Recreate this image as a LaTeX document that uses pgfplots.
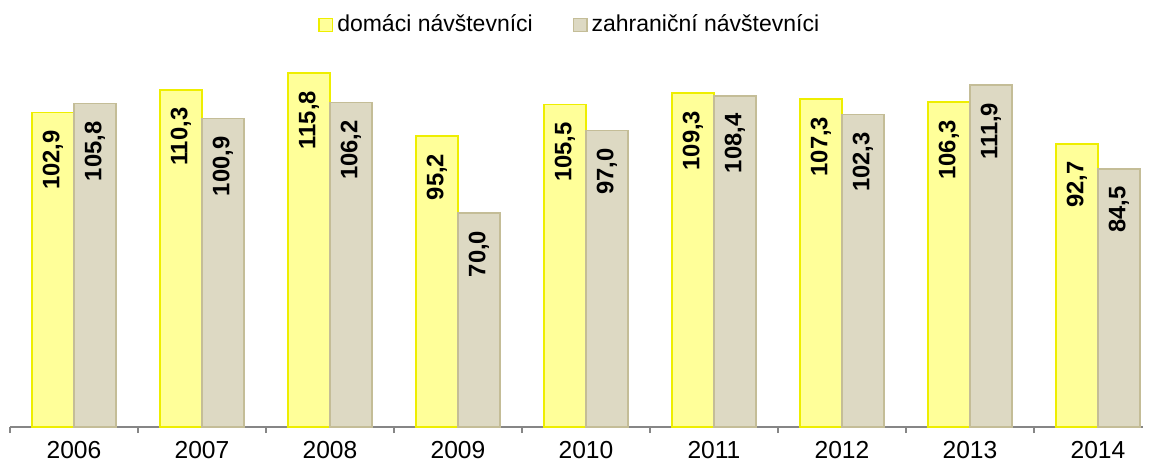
\documentclass[border=0pt]{standalone}
\usepackage{fontspec}
\setmainfont{Liberation Sans}
\usepackage{pgfplots}
\pgfplotsset{compat=1.18}
\definecolor{yfill}{HTML}{FFFF99}
\definecolor{ydraw}{HTML}{EEEE00}
\definecolor{gfill}{HTML}{DDD9C3}
\definecolor{gdraw}{HTML}{C4BD97}
\definecolor{axgray}{HTML}{868686}
\begin{document}
\begin{tikzpicture}[x=1pt,y=1pt]
\useasboundingbox (-5,-18) rectangle (570,213.5);
\begin{axis}[
  at={(0,0)}, anchor=south west,
  scale only axis, width=566.5pt, height=191pt,
  xmin=-0.5, xmax=8.352, ymin=0, ymax=125,
  hide y axis,
  axis x line*=bottom,
  x axis line style={draw=axgray, line width=0.6pt},
  xtick={0,...,8},
  xticklabels={2006,2007,2008,2009,2010,2011,2012,2013,2014},
  major x tick style={draw=none},
  minor xtick={-0.5,0.5,...,7.5},
  minor tick length=3pt,
  minor x tick style={draw=axgray, line width=0.6pt},
  tick align=outside,
  xticklabel style={font=\fontsize{12.3}{14}\selectfont, inner sep=0pt, yshift=-2.6pt},
  /pgf/number format/assume math mode=true,
  ybar=0pt, bar width=21pt,
  nodes near coords,
  nodes near coords style={font=\fontsize{11.9}{13}\selectfont\bfseries, rotate=90, anchor=east, inner xsep=8.5pt,
    /pgf/number format/.cd, fixed, fixed zerofill, precision=1, use comma},
  legend style={at={(0.495,1)}, anchor=center, yshift=10pt, draw=none, fill=none,
    legend columns=2, font=\fontsize{11.5}{13}\selectfont,
    /tikz/every even column/.append style={column sep=18pt},
    nodes={inner xsep=2pt, inner ysep=0pt}},
  legend image code/.code={\draw[#1, line width=0.8pt] (0pt,-3.3pt) rectangle (6.6pt,3.3pt);},
]
\addplot[fill=yfill, draw=ydraw, line width=0.8pt] coordinates {
 (0,102.9) (1,110.3) (2,115.8) (3,95.2) (4,105.5) (5,109.3) (6,107.3) (7,106.3) (8,92.7)};
\addplot[fill=gfill, draw=gdraw, line width=0.8pt] coordinates {
 (0,105.8) (1,100.9) (2,106.2) (3,70.0) (4,97.0) (5,108.4) (6,102.3) (7,111.9) (8,84.5)};
\legend{domáci návštevníci, zahraniční návštevníci}
\end{axis}
\end{tikzpicture}
\end{document}
